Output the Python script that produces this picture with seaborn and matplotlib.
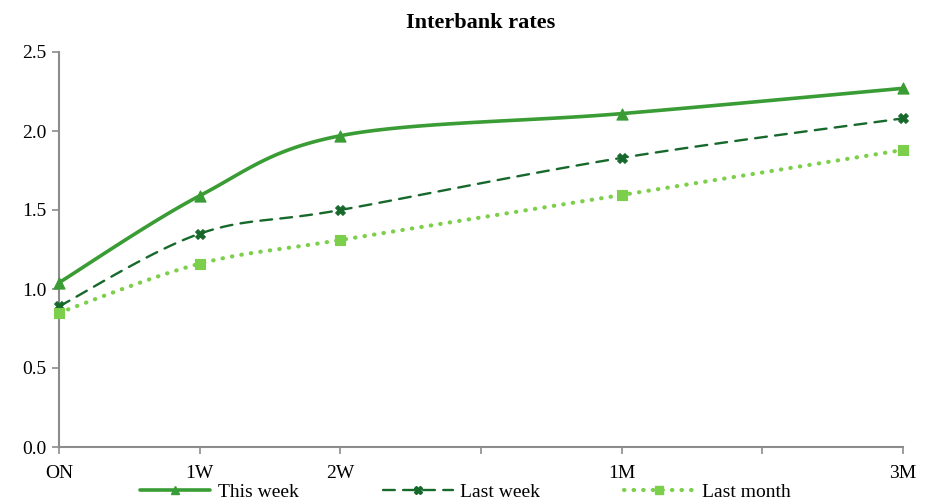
import numpy as np
import pandas as pd
import matplotlib
matplotlib.use('Agg')
import matplotlib.pyplot as plt
import seaborn as sns
from matplotlib.lines import Line2D

# data
tenors = ['ON', '1W', '2W', '1M', '3M']
tenor_pos = [0, 1, 2, 4, 6]
tick_labels = ['ON', '1W', '2W', '', '1M', '', '3M']
this_week = [1.04, 1.59, 1.97, 2.11, 2.27]
last_week = [0.89, 1.35, 1.50, 1.83, 2.08]
last_month = [0.85, 1.16, 1.31, 1.595, 1.88]

sns.set_theme(style='white')
plt.rcParams['font.family'] = ['Liberation Serif', 'DejaVu Serif']
plt.rcParams['text.color'] = 'black'


def smooth(xs, ys, n=30):
    """Excel-like smoothed line (Bezier through points)"""
    p = np.column_stack([xs, ys]).astype(float)
    p = np.vstack([p[0], p, p[-1]])
    out = []
    for i in range(1, len(p) - 2):
        p0, p1, p2, p3 = p[i - 1], p[i], p[i + 1], p[i + 2]
        c1 = p1 + (p2 - p0) / 6
        c2 = p2 - (p3 - p1) / 6
        t = np.linspace(0, 1, n)[:, None]
        seg = ((1 - t) ** 3) * p1 + 3 * ((1 - t) ** 2) * t * c1 + 3 * (1 - t) * t ** 2 * c2 + t ** 3 * p2
        out.append(seg if i == 1 else seg[1:])
    seg = np.vstack(out)
    return seg[:, 0], seg[:, 1]


series = [
    ('This week', this_week, '#3a9c34', '-', 2.6, '^', 8),
    ('Last week', last_week, '#17692b', (0, (5, 3.5)), 1.7, 'X', 7),
    ('Last month', last_month, '#7ccf4a', (0, (0.1, 2.2)), 3.0, 's', 7),
]

fig = plt.figure(figsize=(9.31, 5.04), dpi=100)
ax = fig.add_axes([59 / 931, 1 - 447 / 504, (903 - 59) / 931, (447 - 52) / 504])

handles = []
for name, vals, color, ls, lw, mk, ms in series:
    sx, sy = smooth(tenor_pos, vals)
    sns.lineplot(x=sx, y=sy, ax=ax, color=color, linewidth=lw, sort=False,
                 estimator=None)
    ax.lines[-1].set_linestyle(ls)
    ax.lines[-1].set_clip_on(False)
    if ls != '-':
        ax.lines[-1].set_dash_capstyle('round')
    sns.scatterplot(x=tenor_pos, y=vals, ax=ax, color=color, marker=mk, s=ms ** 2,
                    edgecolor=color, linewidth=0.8, zorder=5)
    ax.collections[-1].set_clip_on(False)
    h = Line2D([], [], color=color, linestyle=ls, linewidth=lw, marker=mk,
               markersize=ms * 0.8, markeredgecolor=color, dash_capstyle='round')
    handles.append((h, name))

ax.set_xlim(0, 6)
ax.set_ylim(0, 2.5)
ax.set_xticks(range(7))
ax.set_xticklabels(tick_labels)
ax.set_yticks(np.arange(0, 2.51, 0.5))
ax.set_yticklabels([f'{v:.1f}' for v in np.arange(0, 2.51, 0.5)])
ax.tick_params(axis='both', which='both', direction='out', length=5, width=1.2,
               color='#8c8c8c', labelsize=14, labelcolor='black', bottom=True, left=True)
ax.tick_params(axis='x', pad=8)
ax.tick_params(axis='y', pad=4)
for s in ['top', 'right']:
    ax.spines[s].set_visible(False)
for s in ['left', 'bottom']:
    ax.spines[s].set_color('#8c8c8c')
    ax.spines[s].set_linewidth(1.5)
ax.set_xlabel('')
ax.set_ylabel('')
ax.set_title('Interbank rates', fontsize=16, fontweight='bold', pad=17, color='black')

fig.legend([h for h, _ in handles], [n for _, n in handles], loc='lower center',
           bbox_to_anchor=(0.5, -0.028), ncol=3, frameon=False, fontsize=14,
           handlelength=3.6, columnspacing=4.3, handletextpad=0.4)

fig.savefig('out.png', dpi=100)
